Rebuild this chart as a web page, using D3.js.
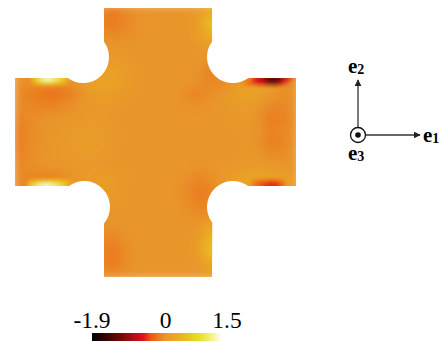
<!DOCTYPE html>
<html>
<head>
<meta charset="utf-8">
<script src="https://cdn.jsdelivr.net/npm/d3@7"></script>
<style>
    html, body { margin: 0; padding: 0; background: #fff; }
    svg { display: block; }
    text { font-family: "Liberation Serif", serif; fill: #000; }
</style>
</head>
<body>
<svg id="chart" width="443" height="341"></svg>
<script>
// stress field, 24 columns x 23 rows over the whole specimen
var coarseValues = [
    [0,0,0,0,0,0,0,-.08,-.14,-.06,-.02,0,0,0,0,.08,.22,.22,0,0,0,0,0,0],
    [0,0,0,0,0,0,0,-.1,-.17,-.08,-.03,0,0,0,0,.14,.55,.55,0,0,0,0,0,0],
    [0,0,0,0,0,0,0,-.04,-.08,-.04,-.02,0,0,0,0,.1,.36,.36,0,0,0,0,0,0],
    [0,0,0,0,0,0,0,0,.02,0,0,0,0,0,0,.03,.1,.08,0,0,0,0,0,0],
    [0,0,0,0,0,0,0,0,.08,.03,.01,0,0,0,0,.01,0,-.04,0,0,0,0,0,0],
    [0,0,0,0,0,0,0,.1,.18,.08,.03,0,0,0,0,-.02,-.1,-.1,-.04,0,0,0,0,0],
    [-.02,-.04,-.08,-.08,-.05,.08,.16,.22,.2,.1,.04,.01,0,0,0,-.03,-.09,-.06,.03,.12,.15,.1,.03,-.03],
    [-.05,-.13,-.18,-.2,-.16,-.06,.08,.14,.1,.05,.02,0,0,0,-.05,-.1,-.04,.02,.12,.2,.16,.04,-.04,-.02],
    [-.05,-.08,-.1,-.1,-.06,0,.04,.05,.04,.02,0,0,0,0,-.02,-.03,0,.03,.07,.09,.02,-.07,-.08,-.02],
    [-.1,-.06,-.03,0,.02,.04,.06,.05,.03,.01,0,0,0,0,0,0,0,.01,.03,.05,-.01,-.15,-.12,-.03],
    [-.14,-.06,-.02,.03,.05,.07,.09,.07,.04,.02,0,0,0,0,0,0,0,0,.02,.04,-.01,-.1,-.08,-.02],
    [-.15,-.06,-.01,.03,.06,.09,.11,.08,.04,.01,0,0,0,0,0,0,0,0,.01,.03,-.01,-.13,-.1,-.02],
    [-.12,-.05,0,.03,.05,.08,.09,.06,.03,.01,0,0,0,0,0,0,0,.01,.02,.03,.01,-.06,-.05,0],
    [-.08,-.04,-.01,.01,.03,.05,.06,.04,.02,.01,0,0,0,0,0,-.01,0,.03,.05,.06,.06,.04,.02,.02],
    [-.06,-.1,-.12,-.1,-.05,.04,.08,.1,.08,.04,.01,0,0,0,-.03,-.08,-.05,.04,.14,.22,.24,.24,.18,.1],
    [-.04,-.06,-.08,-.08,-.04,.03,.08,.1,.08,.03,0,0,0,0,-.06,-.14,-.11,.01,.1,.18,.22,.2,.12,.06],
    [0,0,0,0,0,0,.04,.07,.05,.02,0,0,0,0,-.04,-.12,-.11,-.03,0,0,0,0,0,0],
    [0,0,0,0,0,0,0,.02,.02,.01,0,0,0,0,-.02,-.05,-.05,0,0,0,0,0,0,0],
    [0,0,0,0,0,0,0,-.02,-.02,0,0,0,0,0,0,.03,.2,.24,0,0,0,0,0,0],
    [0,0,0,0,0,0,0,-.08,-.08,-.02,0,0,0,0,0,.08,.42,.44,0,0,0,0,0,0],
    [0,0,0,0,0,0,0,-.1,-.15,-.05,0,0,0,0,0,.1,.52,.52,0,0,0,0,0,0],
    [0,0,0,0,0,0,0,-.1,-.15,-.05,0,0,0,0,0,.06,.28,.26,0,0,0,0,0,0],
    [0,0,0,0,0,0,0,-.05,-.07,-.03,0,0,0,0,0,.02,.1,.1,0,0,0,0,0,0]
];

// narrow hot spots along the notch edges, [col, row, value] on a finer grid
var topLeftGlow = [
    [5,18,.7],[6,18,1.0],[7,18,1.3],[8,18,1.45],[9,18,1.45],[10,18,1.3],[11,18,1.1],[12,18,.9],[13,18,.6],
    [5,19,.35],[6,19,.6],[7,19,.85],[8,19,1.0],[9,19,1.0],[10,19,.85],[11,19,.7],[12,19,.5],[13,19,.3]
];
var bottomLeftGlow = [
    [4,44,.35],[5,44,.55],[6,44,.75],[7,44,.85],[8,44,.9],[9,44,.9],[10,44,.85],[11,44,.75],[12,44,.6],[13,44,.45],[14,44,.3],
    [4,45,.7],[5,45,1.0],[6,45,1.25],[7,45,1.4],[8,45,1.45],[9,45,1.4],[10,45,1.3],[11,45,1.15],[12,45,.95],[13,45,.6]
];
var topRightDark = [
    [58,19,-.2],[59,19,-.35],[60,19,-.45],[61,19,-.55],[62,19,-.6],[63,19,-.6],[64,19,-.6],[65,19,-.6],[66,19,-.6],[67,19,-.55],[68,19,-.4],
    [60,18,-.55],[61,18,-.7],[62,18,-.95],[63,18,-1.4],[64,18,-1.8],[65,18,-1.9],[66,18,-1.8],[67,18,-1.3],[68,18,-.8],[69,18,-.45],
    [63,19,-.9],[64,19,-1.15],[65,19,-1.25],[66,19,-1.0]
];
var bottomRightRed = [
    [60,44,-.15],[61,44,-.2],[62,44,-.3],[63,44,-.35],[64,44,-.4],[65,44,-.4],[66,44,-.35],[67,44,-.2],
    [60,45,-.2],[61,45,-.3],[62,45,-.45],[63,45,-.6],[64,45,-.7],[65,45,-.7],[66,45,-.55],[67,45,-.3]
];

var colorbarTicks = [-1.9, 0, 1.5];
var colorStops = [-1.9, -1.2, -.55, -.35, 0, .4, .9, 1.2, 1.5];
var colorList = ["#000000", "#6a0808", "#e4101c", "#ee5a14", "#e8952b", "#ecb020", "#e6e020", "#f2f078", "#ffffff"];

var svg = d3.select("#chart");
var color = d3.scaleLinear().domain(colorStops).range(colorList).clamp(true);

var xCoarse = d3.scaleBand().domain(d3.range(24)).range([12, 300]);
var yCoarse = d3.scaleBand().domain(d3.range(23)).range([4, 280]);
var xFine = d3.scaleBand().domain(d3.range(72)).range([12, 300]);
var yFine = d3.scaleBand().domain(d3.range(69)).range([4, 280]);

var defs = svg.append("defs");

// specimen outline: a cross with a circular notch at each inner corner
var outline = d3.path();
outline.moveTo(104, 8);
outline.lineTo(212, 8);
outline.lineTo(212, 41.7);
outline.arc(233, 57, 26, Math.atan2(-15.3, -21), Math.atan2(21, 15.3), true);
outline.lineTo(296, 78);
outline.lineTo(296, 186);
outline.lineTo(248, 186);
outline.arc(233, 207, 26, Math.atan2(-21, 15.3), Math.atan2(16, -21), true);
outline.lineTo(212, 277);
outline.lineTo(104, 277);
outline.lineTo(104, 223);
outline.arc(84, 207, 26, Math.atan2(16, 20), Math.atan2(-21, -15.3), true);
outline.lineTo(15, 186);
outline.lineTo(15, 78);
outline.lineTo(68, 78);
outline.arc(83, 57, 26, Math.atan2(21, -15.3), Math.atan2(-15.3, 21), true);
outline.closePath();

defs.append("clipPath").attr("id", "specimen").append("path").attr("d", outline.toString());

function addBlur(id, amount) {
    defs.append("filter")
        .attr("id", id)
        .attr("filterUnits", "userSpaceOnUse")
        .attr("x", 0).attr("y", 0).attr("width", 310).attr("height", 290)
        .append("feGaussianBlur").attr("stdDeviation", amount);
}
addBlur("blur-coarse", 5);
addBlur("blur-fine", 1.9);

var field = svg.append("g").attr("clip-path", "url(#specimen)");

var cells = [];
coarseValues.forEach(function(row, r) {
    row.forEach(function(v, c) { cells.push({c: c, r: r, v: v}); });
});

field.append("g")
    .attr("filter", "url(#blur-coarse)")
    .selectAll("rect")
    .data(cells)
    .enter().append("rect")
    .attr("x", function(d) { return xCoarse(d.c); })
    .attr("y", function(d) { return yCoarse(d.r); })
    .attr("width", xCoarse.bandwidth() + .5)
    .attr("height", yCoarse.bandwidth() + .5)
    .attr("fill", function(d) { return color(d.v); });

field.append("g")
    .attr("filter", "url(#blur-fine)")
    .selectAll("rect")
    .data(topLeftGlow.concat(bottomLeftGlow, topRightDark, bottomRightRed))
    .enter().append("rect")
    .attr("x", function(d) { return xFine(d[0]); })
    .attr("y", function(d) { return yFine(d[1]); })
    .attr("width", xFine.bandwidth() + .5)
    .attr("height", yFine.bandwidth() + .5)
    .attr("fill", function(d) { return color(d[2]); });

// colour bar
var xBar = d3.scaleLinear().domain([-1.9, 1.5]).range([92, 222]);
var gradient = defs.append("linearGradient").attr("id", "bar-gradient");
gradient.selectAll("stop")
    .data(colorStops)
    .enter().append("stop")
    .attr("offset", function(d) { return (d + 1.9) / 3.4; })
    .attr("stop-color", function(d) { return color(d); });

svg.append("rect")
    .attr("x", xBar(-1.9))
    .attr("y", 333)
    .attr("width", xBar(1.5) - xBar(-1.9))
    .attr("height", 8)
    .attr("fill", "url(#bar-gradient)");

svg.selectAll(".bar-label")
    .data(colorbarTicks)
    .enter().append("text")
    .attr("class", "bar-label")
    .attr("x", function(d) { return xBar(d) + (d === 0 ? 1 : d < 0 ? 0 : 5); })
    .attr("y", 328)
    .attr("text-anchor", "middle")
    .attr("font-size", 23.5)
    .text(function(d) { return d; });

// coordinate triad
var triad = svg.append("g");
defs.append("marker")
    .attr("id", "arrow")
    .attr("viewBox", "0 0 10 10")
    .attr("refX", 9).attr("refY", 5)
    .attr("markerUnits", "userSpaceOnUse")
    .attr("markerWidth", 7).attr("markerHeight", 7)
    .attr("orient", "auto")
    .append("path").attr("d", "M0,0L10,5L0,10Z").attr("fill", "#222");

triad.append("line").attr("x1", 358).attr("y1", 135).attr("x2", 358).attr("y2", 80)
    .attr("stroke", "#333").attr("stroke-width", 1.3).attr("marker-end", "url(#arrow)");
triad.append("line").attr("x1", 358).attr("y1", 135).attr("x2", 420).attr("y2", 135)
    .attr("stroke", "#333").attr("stroke-width", 1.3).attr("marker-end", "url(#arrow)");
triad.append("circle").attr("cx", 358).attr("cy", 135).attr("r", 7.5)
    .attr("fill", "#fff").attr("stroke", "#111").attr("stroke-width", 1.3);
triad.append("circle").attr("cx", 358).attr("cy", 135).attr("r", 2.8).attr("fill", "#111");

var axisLabels = [
    {x: 348, y: 73, sub: "2"},
    {x: 423, y: 142, sub: "1"},
    {x: 348, y: 160, sub: "3"}
];
var labels = triad.selectAll(".axis-label")
    .data(axisLabels)
    .enter().append("text")
    .attr("class", "axis-label")
    .attr("x", function(d) { return d.x; })
    .attr("y", function(d) { return d.y; })
    .attr("font-weight", "bold")
    .attr("font-size", 21)
    .text("e");
labels.append("tspan")
    .attr("font-size", 14)
    .attr("dy", 1)
    .text(function(d) { return d.sub; });
</script>
</body>
</html>
